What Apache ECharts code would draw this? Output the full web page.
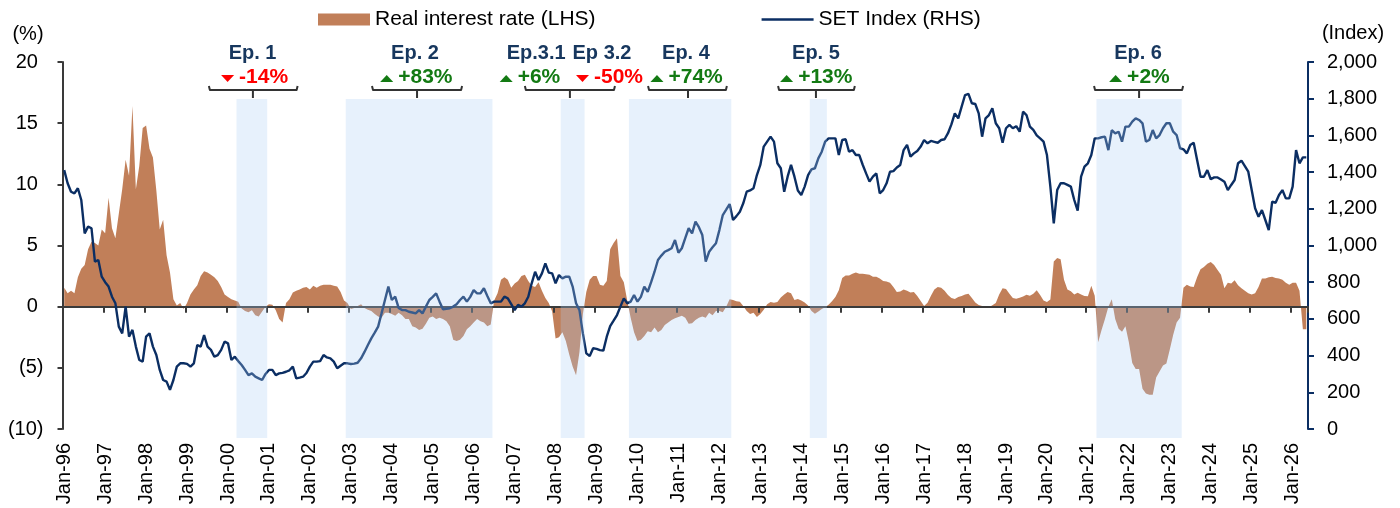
<!DOCTYPE html>
<html>
<head>
<meta charset="utf-8">
<script src="https://cdn.jsdelivr.net/npm/echarts@6/dist/echarts.min.js"></script>
<style>
html, body { margin: 0; padding: 0; background: #fff; }
#chart { width: 1400px; height: 508px; }
</style>
</head>
<body>
<div id="chart"></div>
<script>
// ---- categories: monthly, Jan-96 .. May-26 ----
var monthNames = ['Jan','Feb','Mar','Apr','May','Jun','Jul','Aug','Sep','Oct','Nov','Dec'];
var months = [];
for (var i = 0; i < 365; i++) {
	var y = 1996 + Math.floor(i / 12);
	months.push(monthNames[i % 12] + '-' + String(y).slice(2));
}

// real interest rate, % (LHS)
var realRate = [].concat(
	[1.55, 1.1, 1.3, 1.1, 2.4, 3.1, 3.4, 4.7, 5.3, 5.2, 5.0, 6.3],          // 1996
	[6.0, 8.9, 6.4, 5.6, 7.6, 9.6, 12.0, 10.7, 16.4, 9.6, 11.5, 14.6],       // 1997
	[14.8, 12.9, 12.2, 9.5, 6.3, 7.1, 4.2, 2.8, 0.6, 0.1, 0.3, -0.2],        // 1998
	[0.3, 1.0, 1.4, 1.75, 2.5, 2.9, 2.8, 2.6, 2.4, 2.1, 1.6, 1.0],           // 1999
	[0.8, 0.6, 0.5, 0.4, -0.15, -0.35, -0.45, -0.3, -0.7, -0.8, -0.4, 0.0],  // 2000
	[0.2, 0.15, -0.3, -1.0, -1.3, 0.3, 0.6, 1.15, 1.3, 1.4, 1.55, 1.6],      // 2001
	[1.4, 1.7, 1.55, 1.7, 1.8, 1.8, 1.8, 1.7, 1.65, 1.2, 0.5, 0.3],          // 2002
	[-0.2, -0.1, 0.05, 0.2, -0.1, -0.25, -0.35, -0.6, -0.8, -0.9, -0.5, -0.5], // 2003
	[-0.6, -0.75, -0.5, -0.7, -1.0, -1.0, -1.6, -1.7, -1.9, -1.8, -1.4, -0.9], // 2004
	[-0.8, -1.0, -0.9, -1.0, -1.2, -1.6, -2.7, -2.8, -2.7, -2.4, -1.85, -1.6], // 2005
	[-1.3, -1.0, -1.2, -1.3, -1.6, -1.45, 0.5, 1.1, 2.2, 2.4, 2.2, 1.55],    // 2006
	[1.9, 2.1, 2.5, 2.6, 2.1, 1.7, 1.6, 2.0, 1.3, 0.7, 0.3, -0.4],           // 2007
	[-2.6, -2.5, -2.1, -2.8, -3.9, -4.9, -5.6, -3.7, -0.6, 1.2, 2.2, 2.5],   // 2008
	[2.5, 1.8, 1.7, 2.1, 4.7, 5.2, 5.6, 2.5, 2.0, 0.5, -0.9, -2.1],          // 2009
	[-2.8, -2.7, -2.4, -2.0, -2.1, -1.7, -2.1, -1.9, -1.5, -1.3, -1.1, -0.95], // 2010
	[-0.85, -0.75, -0.9, -1.4, -1.35, -1.1, -0.9, -0.8, -0.9, -0.5, -0.7, -0.35], // 2011
	[-0.35, -0.45, 0.0, 0.6, 0.55, 0.45, 0.4, 0.05, -0.35, -0.6, -0.5, -0.85], // 2012
	[-0.6, -0.25, 0.2, 0.38, 0.33, 0.38, 0.74, 1.0, 1.2, 1.1, 0.55, 0.63],   // 2013
	[0.5, 0.35, 0.1, -0.35, -0.58, -0.4, -0.2, -0.05, 0.15, 0.45, 0.8, 1.35], // 2014
	[2.35, 2.55, 2.55, 2.7, 2.8, 2.7, 2.7, 2.65, 2.6, 2.45, 2.45, 2.3],      // 2015
	[2.1, 2.05, 1.95, 1.6, 1.2, 1.25, 1.4, 1.3, 1.15, 1.2, 0.87, 0.46],      // 2016
	[0.05, 0.33, 0.9, 1.4, 1.6, 1.55, 1.3, 0.95, 0.7, 0.62, 0.78, 0.88],     // 2017
	[1.0, 1.05, 0.7, 0.35, 0.13, 0.05, 0.05, -0.05, 0.12, 0.3, 1.0, 1.5],    // 2018
	[1.45, 1.05, 0.7, 0.64, 0.72, 0.84, 0.97, 0.9, 1.05, 1.35, 0.95, 0.5],   // 2019
	[0.38, 0.58, 3.7, 3.98, 3.87, 2.2, 1.4, 1.27, 1.0, 1.14, 1.0, 0.87],     // 2020
	[0.85, 1.7, 0.9, -2.9, -1.9, -1.0, 0.0, 0.6, -1.0, -1.8, -2.05, -1.6],   // 2021
	[-2.9, -4.6, -5.1, -5.1, -6.7, -7.1, -7.2, -7.2, -5.8, -5.3, -4.8, -4.65], // 2022
	[-3.5, -2.3, -1.3, -0.9, 1.55, 1.8, 1.65, 1.6, 2.4, 3.05, 3.25, 3.5],    // 2023
	[3.65, 3.4, 3.0, 2.6, 1.5, 1.95, 1.9, 2.15, 1.75, 1.5, 1.3, 1.1],        // 2024
	[1.0, 1.1, 1.6, 2.3, 2.3, 2.4, 2.45, 2.35, 2.3, 2.2, 1.95, 1.8],         // 2025
	[1.95, 1.95, 1.3, -1.85, -1.85]                                         // 2026
);

// SET index (RHS)
var setIndex = [].concat(
	[1411, 1339, 1293, 1284, 1312, 1248, 1066, 1103, 1094, 912, 921, 830],  // 1996
	[800, 776, 721, 685, 558, 521, 667, 503, 540, 449, 376, 367],           // 1997
	[503, 521, 449, 403, 322, 267, 258, 213, 267, 340, 358, 358],           // 1998
	[355, 340, 358, 458, 449, 512, 449, 431, 394, 403, 431, 476],           // 1999
	[467, 376, 394, 370, 349, 322, 294, 303, 285, 276, 267, 300],           // 2000
	[322, 322, 294, 303, 306, 312, 320, 340, 276, 280, 285, 305],           // 2001
	[340, 367, 367, 370, 403, 390, 385, 367, 331, 345, 358, 358],           // 2002
	[354, 356, 361, 385, 420, 458, 494, 525, 558, 630, 703, 776],           // 2003
	[703, 721, 660, 648, 648, 639, 635, 630, 648, 630, 667, 703],           // 2004
	[720, 739, 694, 652, 655, 658, 667, 680, 703, 721, 694, 720],           // 2005
	[757, 739, 740, 767, 725, 685, 694, 694, 694, 721, 712, 680],           // 2006
	[648, 676, 667, 685, 721, 794, 857, 812, 848, 903, 852, 848],           // 2007
	[794, 839, 821, 830, 830, 776, 685, 648, 521, 412, 398, 440],           // 2008
	[437, 430, 427, 503, 560, 590, 621, 667, 712, 685, 694, 730],           // 2009
	[694, 720, 776, 748, 800, 857, 921, 945, 966, 975, 985, 1030],          // 2010
	[961, 985, 1040, 1094, 1066, 1130, 1100, 1057, 912, 966, 990, 1012],    // 2011
	[1084, 1166, 1195, 1226, 1139, 1160, 1184, 1230, 1293, 1300, 1312, 1384], // 2012
	[1439, 1539, 1566, 1593, 1566, 1448, 1421, 1293, 1375, 1439, 1375, 1300], // 2013
	[1275, 1321, 1384, 1415, 1421, 1475, 1511, 1566, 1584, 1584, 1584, 1493], // 2014
	[1575, 1579, 1511, 1520, 1493, 1493, 1440, 1393, 1348, 1375, 1393, 1284], // 2015
	[1302, 1339, 1402, 1405, 1425, 1439, 1520, 1548, 1484, 1502, 1515, 1539], // 2016
	[1575, 1557, 1570, 1565, 1560, 1575, 1579, 1612, 1660, 1720, 1693, 1757], // 2017
	[1820, 1826, 1775, 1771, 1720, 1593, 1693, 1711, 1748, 1666, 1639, 1560], // 2018
	[1639, 1657, 1639, 1650, 1620, 1729, 1711, 1648, 1630, 1600, 1584, 1566], // 2019
	[1493, 1321, 1121, 1302, 1339, 1339, 1330, 1321, 1248, 1190, 1375, 1430], // 2020
	[1448, 1493, 1584, 1584, 1590, 1593, 1520, 1629, 1611, 1620, 1566, 1648], // 2021
	[1648, 1675, 1693, 1684, 1666, 1566, 1575, 1629, 1584, 1602, 1639, 1666], // 2022
	[1666, 1620, 1602, 1530, 1524, 1502, 1548, 1560, 1466, 1375, 1375, 1411], // 2023
	[1361, 1371, 1371, 1360, 1348, 1302, 1330, 1357, 1448, 1462, 1433, 1402], // 2024
	[1302, 1203, 1157, 1193, 1139, 1084, 1239, 1233, 1275, 1302, 1257, 1257], // 2025
	[1321, 1520, 1448, 1480, 1480]                                          // 2026
);

// episodes
var shadeFrom = ['Apr-00', 'Dec-02', 'Mar-08', 'Nov-09', 'Apr-14', 'Apr-21'];
var shadeTo   = ['Dec-00', 'Jun-06', 'Sep-08', 'Apr-12', 'Aug-14', 'Apr-23'];
var episodeNames  = ['Ep. 1', 'Ep. 2', 'Ep.3.1', 'Ep 3.2', 'Ep. 4', 'Ep. 5', 'Ep. 6'];
var episodeChange = [-14, 83, 6, -50, 74, 13, 2];

// annotation layout, in months from the left edge of the axis
var bracketFrom = [42.9, 90.7, 135.5, 171.6, 209.7, 302.3];
var bracketTo   = [68.9, 117.1, 161.9, 194.7, 232.2, 328.4];
var bracketTick = [55.8, 103.9, 148.7, 183.3, 220.8, 315.5];
var nameAt      = [55.7, 103.3, 138.8, 158.1, 182.7, 220.8, 315.2];
var changeAt    = [56.3, 103.7, 137.0, 160.3, 182.9, 220.9, 315.6];

var FONT = '"Liberation Sans", Arial, Helvetica, sans-serif';
var NAVY = '#0b2e63';
var BROWN = '#c17f59';
var AXIS_GREY = '#3a3a3a';

var myChart = echarts.init(document.getElementById('chart'));

function thousands(v) {
	return String(v).replace(/\B(?=(\d{3})+(?!\d))/g, ',');
}

var option = {
	animation: false,
	textStyle: { fontFamily: FONT },
	legend: {
		left: 318,
		top: 9,
		padding: 0,
		itemWidth: 52,
		itemHeight: 12,
		itemGap: 166,
		symbolKeepAspect: true,
		textStyle: { fontSize: 21, color: '#000', fontFamily: FONT },
		data: [
			{ name: 'Real interest rate (LHS)', icon: 'rect' },
			{ name: 'SET Index (RHS)', icon: 'path://M0,0H52V2.5H0Z', itemStyle: { borderWidth: 0 } }
		]
	},
	grid: { left: 62.5, right: 92, top: 62, bottom: 79, outerBoundsMode: 'none' },
	xAxis: [
		{
			// date labels along the bottom edge
			type: 'category',
			data: months,
			boundaryGap: true,
			position: 'bottom',
			axisLine: { show: false, onZero: false },
			axisTick: { show: false },
			axisLabel: {
				interval: 11,
				rotate: 90,
				margin: 14,
				fontSize: 20,
				color: '#000',
				fontFamily: FONT
			},
			splitLine: { show: false }
		},
		{
			// zero line with yearly ticks
			type: 'category',
			data: months,
			boundaryGap: true,
			position: 'bottom',
			z: 10,
			axisLine: { show: true, onZero: true, onZeroAxisIndex: 0, lineStyle: { color: AXIS_GREY, width: 2 } },
			axisTick: { show: true, interval: 11, length: 6, lineStyle: { color: AXIS_GREY, width: 2 } },
			axisLabel: { show: false },
			splitLine: { show: false }
		}
	],
	yAxis: [
		{
			type: 'value',
			min: -10,
			max: 20,
			interval: 5,
			axisLine: { show: true, lineStyle: { color: AXIS_GREY, width: 2 } },
			axisTick: { show: true, length: 5, lineStyle: { color: AXIS_GREY, width: 2 } },
			axisLabel: {
				margin: 19,
				fontSize: 20,
				color: '#000',
				fontFamily: FONT,
				formatter: function (v) {
					return v < 0 ? '(' + (-v) + ')' : v + '\u00a0';
				}
			},
			splitLine: { show: false }
		},
		{
			type: 'value',
			min: 0,
			max: 2000,
			interval: 200,
			position: 'right',
			axisLine: { show: true, lineStyle: { color: NAVY, width: 2 } },
			axisTick: { show: true, length: 6, lineStyle: { color: NAVY, width: 2 } },
			axisLabel: {
				margin: 19,
				fontSize: 20,
				color: '#000',
				fontFamily: FONT,
				formatter: thousands
			},
			splitLine: { show: false }
		}
	],
	series: [
		{
			name: 'Real interest rate (LHS)',
			type: 'line',
			xAxisIndex: 0,
			yAxisIndex: 0,
			data: realRate,
			symbol: 'none',
			silent: true,
			lineStyle: { width: 0, color: BROWN },
			itemStyle: { color: BROWN },
			areaStyle: { color: BROWN, opacity: 1, origin: 0 },
			z: 2
		},
		{
			name: 'SET Index (RHS)',
			type: 'line',
			xAxisIndex: 0,
			yAxisIndex: 1,
			data: setIndex,
			symbol: 'none',
			silent: true,
			lineStyle: { width: 2.4, color: NAVY },
			itemStyle: { color: NAVY },
			z: 20
		}
	]
};
myChart.setOption(option);

// ---- annotations, placed through the category axis ----
var measureCtx = document.createElement('canvas').getContext('2d');
function textWidth(str, font) {
	measureCtx.font = font;
	return measureCtx.measureText(str).width;
}

var p0 = myChart.convertToPixel({ xAxisIndex: 0 }, 0);
var p1 = myChart.convertToPixel({ xAxisIndex: 0 }, 1);
var bandW = p1 - p0;
function monthX(m) { return p0 - bandW / 2 + m * bandW; }

var SHADE_TOP = 99, SHADE_BOTTOM = 438;
var BR_TOP = 86, BR_Y = 90, BR_TICK = 98;
var NAME_Y = 53, CHANGE_Y = 77;
var nameFont = 'bold 20px ' + FONT;
var changeFont = 'bold 21px ' + FONT;

var graphics = [];

shadeFrom.forEach(function (from, k) {
	var a = months.indexOf(from), b = months.indexOf(shadeTo[k]) + 1;
	var x0 = monthX(a), x1 = monthX(b);
	graphics.push({
		type: 'rect', silent: true, z: 100,
		shape: { x: x0, y: SHADE_TOP, width: x1 - x0, height: SHADE_BOTTOM - SHADE_TOP },
		style: { fill: 'rgba(172, 206, 246, 0.29)' }
	});
});

bracketFrom.forEach(function (from, k) {
	var l = monthX(from), r = monthX(bracketTo[k]), t = monthX(bracketTick[k]);
	graphics.push({
		type: 'polyline', silent: true, z: 110,
		shape: { points: [[l, BR_TOP], [l + 1, BR_Y], [r - 1, BR_Y], [r, BR_TOP]] },
		style: { stroke: '#333', lineWidth: 2, fill: null, lineJoin: 'round' }
	});
	graphics.push({
		type: 'line', silent: true, z: 110,
		shape: { x1: t, y1: BR_Y, x2: t, y2: BR_TICK },
		style: { stroke: '#333', lineWidth: 2 }
	});
});

episodeNames.forEach(function (name, k) {
	graphics.push({
		type: 'text', silent: true, z: 110,
		style: {
			text: name, x: monthX(nameAt[k]), y: NAME_Y,
			font: nameFont, fill: '#17375e',
			align: 'center', verticalAlign: 'middle',
			textAlign: 'center', textVerticalAlign: 'middle'
		}
	});
	var chg = episodeChange[k];
	var up = chg >= 0;
	var label = (up ? '+' : '-') + Math.abs(chg) + '%';
	var colour = up ? '#137a13' : '#ff0000';
	var triW = 13, gap = 5;
	var tw = textWidth(label, changeFont);
	var cx = monthX(changeAt[k]);
	var left = cx - (triW + gap + tw) / 2;
	var ty = CHANGE_Y + 1.5;
	var tri = up
		? [[left, ty + 3.5], [left + triW, ty + 3.5], [left + triW / 2, ty - 3.5]]
		: [[left, ty - 3.5], [left + triW, ty - 3.5], [left + triW / 2, ty + 3.5]];
	graphics.push({
		type: 'polygon', silent: true, z: 110,
		shape: { points: tri },
		style: { fill: colour }
	});
	graphics.push({
		type: 'text', silent: true, z: 110,
		style: {
			text: label, x: left + triW + gap, y: CHANGE_Y,
			font: changeFont, fill: colour,
			align: 'left', verticalAlign: 'middle',
			textAlign: 'left', textVerticalAlign: 'middle'
		}
	});
});

// axis unit captions
graphics.push({
	type: 'text', silent: true, z: 110,
	style: { text: '(%)', x: 28, y: 34, font: '20px ' + FONT, fill: '#000',
		align: 'center', verticalAlign: 'middle', textAlign: 'center', textVerticalAlign: 'middle' }
});
graphics.push({
	type: 'text', silent: true, z: 110,
	style: { text: '(Index)', x: 1353, y: 33, font: '20px ' + FONT, fill: '#000',
		align: 'center', verticalAlign: 'middle', textAlign: 'center', textVerticalAlign: 'middle' }
});

myChart.setOption({ graphic: graphics });
</script>
</body>
</html>
